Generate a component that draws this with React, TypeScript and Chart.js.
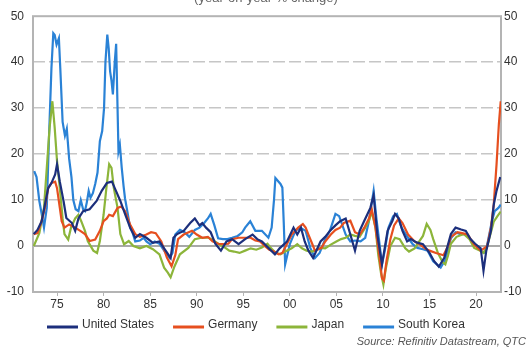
import React, { useEffect, useRef } from "react";
import { Chart, registerables } from "chart.js";

Chart.register(...registerables);

const titleText = "(year-on-year % change)";
const sourceText = "Source: Refinitiv Datastream, QTC";
const seriesNames = ["United States", "Germany", "Japan", "South Korea"];
const seriesColors = ["#1c2f7c", "#e64f1f", "#8cb53a", "#2a82d6"];
const xTickYears = [1975, 1980, 1985, 1990, 1995, 2000, 2005, 2010, 2015, 2020];
const yTickValues = [-10, 0, 10, 20, 30, 40, 50];

const usYears = [1972.5, 1972.9, 1973.35, 1973.7, 1974.05, 1974.4, 1974.8, 1975.0, 1975.3, 1975.7, 1976.0, 1976.6, 1976.95, 1977.3, 1977.8, 1978.5, 1979.25, 1979.8, 1980.35, 1980.9, 1981.2, 1981.8, 1982.3, 1982.85, 1983.4, 1983.9, 1984.6, 1985.3, 1986.0, 1986.5, 1987.2, 1987.5, 1987.9, 1988.6, 1989.3, 1989.8, 1990.3, 1990.6, 1991.0, 1991.5, 1992.0, 1992.6, 1993.2, 1993.8, 1994.5, 1995.2, 1996.0, 1996.5, 1997.0, 1997.7, 1998.4, 1998.9, 1999.7, 2000.4, 2000.8, 2001.2, 2001.6, 2002.0, 2002.5, 2003.3, 2003.8, 2004.3, 2004.9, 2005.4, 2006.0, 2006.5, 2007.0, 2007.5, 2008.0, 2008.65, 2009.0, 2009.4, 2009.9, 2010.5, 2011.0, 2011.3, 2011.7, 2012.1, 2012.6, 2013.0, 2013.6, 2014.3, 2015.0, 2015.5, 2016.0, 2016.6, 2017.3, 2017.8, 2018.4, 2018.9, 2019.4, 2019.9, 2020.5, 2020.8, 2021.1, 2021.6, 2021.9, 2022.2, 2022.6];
const usValues = [2.6, 3.5, 5.4, 9, 12.6, 13.7, 15.6, 17.8, 14, 9.8, 6.1, 5, 3.3, 6, 7.6, 8, 9.8, 12, 13.7, 14, 12.6, 9.8, 7, 4, 1.8, 2.6, 1.8, 0.7, 1, -0.5, -2.6, 1.8, 2.6, 3.3, 5, 6, 4.5, 5, 4, 3, 0.5, -1, 1, 1.5, 0.4, 1.5, 2.5, 1.5, 1, -0.4, -1.8, -0.5, 1, 4, 2.5, 4, 1, -1, -2.6, 1, 2, 3.3, 4.5, 5.4, 6, 2.5, -1, 3.3, 5.5, 8.3, 11, 2.5, -4, 3.3, 5.4, 7, 6, 3.3, 1, 1.5, 0.8, 0.4, -1.5, -3.3, -4.5, -2.5, 2.6, 4, 3.6, 3.3, 1.5, 0.5, -0.5, -5.4, -1, 3.3, 9, 12, 15];

const germanyYears = [1972.5, 1972.9, 1973.35, 1973.7, 1974.05, 1974.4, 1974.8, 1975.0, 1975.3, 1975.5, 1975.8, 1976.3, 1976.95, 1977.5, 1978.0, 1978.5, 1979.1, 1979.6, 1980.0, 1980.35, 1980.6, 1981.0, 1981.5, 1981.9, 1982.3, 1982.85, 1983.4, 1983.9, 1984.6, 1985.1, 1985.6, 1986.2, 1986.8, 1987.3, 1987.7, 1988.0, 1988.6, 1989.5, 1990.0, 1990.6, 1991.2, 1991.7, 1992.3, 1992.8, 1993.4, 1993.8, 1994.5, 1995.2, 1995.8, 1996.3, 1996.8, 1997.3, 1997.8, 1998.3, 1998.8, 1999.2, 1999.7, 2000.2, 2000.9, 2001.4, 2001.7, 2002.0, 2002.4, 2002.7, 2003.4, 2003.8, 2004.4, 2004.9, 2005.4, 2005.8, 2006.5, 2007.0, 2007.5, 2008.0, 2008.5, 2008.8, 2009.2, 2009.6, 2009.9, 2010.1, 2010.4, 2010.8, 2011.2, 2011.7, 2012.1, 2012.7, 2013.4, 2014.0, 2014.5, 2015.0, 2015.7, 2016.5, 2017.0, 2017.3, 2018.0, 2018.5, 2019.1, 2019.8, 2020.5, 2021.2, 2021.6, 2021.9, 2022.2, 2022.45, 2022.65];
const germanyValues = [2.6, 2.8, 5.4, 8.3, 12.6, 13.7, 14, 12.6, 8.3, 5.4, 4, 4.7, 4, 3.3, 2.6, 1.1, 1.4, 3.3, 5.4, 6, 6.8, 6.5, 8.3, 8.6, 7.6, 4.7, 2.6, 2, 2.5, 3, 2.8, 1, -2.5, -4.4, -2, 1.5, 2.5, 3.3, 2.5, 1.8, 2, 1, 0.5, 0.4, 0.5, 1.5, 1.8, 1.8, 1.8, 1.2, 1, 0, -0.8, -1.2, -1.8, -1.5, 0.5, 2.5, 4, 4.8, 4, 2.5, 0.5, -1, -0.4, 1, 2.5, 3.5, 4, 5, 5.5, 3, 2.5, 4, 6, 8, 4, -2, -7, -7.5, -3, 1.5, 4.5, 6, 5, 2.5, 1, 0.3, -0.5, -1, -1.5, -2, 0, 2, 3, 2.8, 2.5, 0.3, -1, 0, 4, 9, 17.7, 26.5, 31.5];

const japanYears = [1972.5, 1973.1, 1973.6, 1973.9, 1974.2, 1974.5, 1974.75, 1975.0, 1975.3, 1975.6, 1975.8, 1976.2, 1976.5, 1976.95, 1977.3, 1977.6, 1978.0, 1978.3, 1978.9, 1979.3, 1979.6, 1980.0, 1980.3, 1980.6, 1980.85, 1981.1, 1981.5, 1981.8, 1982.2, 1982.7, 1983.2, 1983.9, 1984.6, 1985.3, 1986.0, 1986.5, 1986.9, 1987.2, 1987.6, 1988.2, 1989.1, 1989.8, 1990.5, 1991.3, 1991.8, 1992.4, 1993.0, 1993.5, 1994.0, 1994.6, 1995.2, 1995.8, 1996.4, 1997.0, 1997.6, 1998.0, 1998.5, 1999.0, 1999.5, 2000.2, 2000.8, 2001.3, 2001.8, 2002.4, 2002.9, 2003.4, 2003.8, 2004.4, 2005.0, 2005.5, 2006.0, 2006.5, 2007.0, 2007.5, 2008.1, 2008.5, 2008.8, 2009.2, 2009.5, 2009.8, 2010.05, 2010.3, 2010.8, 2011.3, 2011.8, 2012.4, 2012.8, 2013.4, 2013.9, 2014.3, 2014.7, 2015.1, 2015.4, 2015.9, 2016.4, 2016.7, 2017.0, 2017.3, 2017.9, 2018.7, 2019.3, 2019.8, 2020.4, 2020.8, 2021.2, 2021.6, 2021.9, 2022.3, 2022.65];
const japanValues = [0, 2.8, 8.3, 17, 25.7, 31.5, 25.7, 18.5, 12.6, 6, 2.6, 1.4, 4, 6, 6.8, 5.4, 3.3, 1.1, -1, -1.5, 1.1, 6.8, 12.6, 17.8, 17, 12.6, 8.3, 2.6, 0.4, 1.1, 0, -0.5, 0, -0.7, -1.8, -4.7, -5.8, -6.8, -4.5, -1.8, -0.4, 1.5, 1.8, 1.8, 1.2, 0.4, -0.3, -1, -1.2, -1.5, -1, -0.5, -0.8, -0.3, 0.5, -0.5, -1.5, -1.8, -1.2, -0.5, 0.4, -0.5, -1, -1.2, -0.8, -0.4, -0.5, 0.3, 1, 1.5, 1.8, 2.5, 2.2, 2, 4, 5.5, 7.5, 4, -2, -6, -8.4, -5, 0, 1.8, 1.5, -0.5, -1.2, -0.5, 1, 2.2, 4.8, 3.5, 1.5, -1.5, -3.5, -4, -2, 0.5, 2, 2.6, 1.5, -0.4, -1, -1.5, 0, 3, 5.3, 6.5, 7.5];

const koreaYears = [1972.55, 1972.8, 1973.1, 1973.35, 1973.6, 1973.9, 1974.15, 1974.4, 1974.6, 1974.75, 1974.95, 1975.2, 1975.35, 1975.6, 1975.85, 1976.05, 1976.3, 1976.55, 1976.75, 1977.0, 1977.3, 1977.55, 1977.8, 1978.0, 1978.2, 1978.4, 1978.6, 1978.85, 1979.1, 1979.35, 1979.6, 1979.85, 1980.05, 1980.2, 1980.4, 1980.55, 1980.7, 1980.85, 1981.0, 1981.2, 1981.35, 1981.5, 1981.6, 1981.75, 1981.95, 1982.15, 1982.3, 1982.6, 1982.85, 1983.1, 1983.4, 1983.9, 1984.3, 1984.6, 1985.0, 1985.5, 1986.0, 1986.5, 1987.1, 1987.4, 1987.7, 1988.2, 1988.7, 1989.2, 1989.8, 1990.3, 1990.8, 1991.2, 1991.5, 1991.9, 1992.3, 1992.8, 1993.3, 1993.8, 1994.4, 1994.9, 1995.2, 1995.75, 1996.3, 1997.0, 1997.7, 1998.05, 1998.3, 1998.45, 1999.0, 1999.2, 1999.35, 1999.5, 2000.0, 2000.6, 2001.1, 2001.7, 2002.2, 2002.7, 2003.2, 2003.8, 2004.3, 2004.9, 2005.3, 2006.0, 2006.5, 2007.0, 2007.6, 2008.1, 2008.5, 2009.0, 2009.3, 2009.9, 2010.2, 2010.6, 2011.1, 2011.5, 2012.0, 2012.7, 2013.2, 2013.7, 2014.3, 2014.8, 2015.4, 2016.2, 2016.7, 2017.3, 2017.8, 2018.3, 2018.9, 2019.4, 2019.9, 2020.5, 2021.0, 2021.3, 2021.7, 2022.0, 2022.4, 2022.65];
const koreaValues = [16.3, 15, 9.8, 7, 4, 8.3, 24.3, 38.7, 46.3, 45.9, 43.8, 45.2, 38.7, 27, 24, 25.5, 19, 15, 10, 8, 7.6, 10, 8, 7.6, 9.5, 12, 10.5, 11.5, 13.5, 16, 22.8, 25, 30, 40, 46, 43, 38, 36, 33, 40, 44, 30, 20.6, 22, 17, 13, 10.4, 7, 4, 3, 1, 1.2, 1.8, 1, 0.4, 1, 0.5, -1, -2.6, -1.5, 2.5, 3.5, 3, 2, 3.5, 4, 5, 6, 7, 4.5, 1.7, 1.5, 1.5, 1.8, 2.2, 3, 4, 5.4, 3.3, 3.3, 1.8, 4, 10, 14.8, 13.5, 12.7, 5, -4, 0.4, 3.3, 4, 3.3, -0.4, -2.6, -1.5, 1.5, 3.3, 7, 6.5, 2.5, 1, 1.2, 1, 1.8, 5.5, 12, 6, -4, -1, 4, 6.5, 7, 4, 1.8, 0.4, -0.4, -0.7, -1, -3.3, -4.7, -3, 1.7, 3, 2.6, 2.6, 1.5, 0.3, -1, -1.5, 1.3, 5.4, 7.6, 8.3, 9];

const seriesYears = [usYears, germanyYears, japanYears, koreaYears];
const seriesValues = [usValues, germanyValues, japanValues, koreaValues];

const FONT = "'Liberation Sans', Arial, sans-serif";
const TEXT = "#333333";

const decorPlugin = {
  id: "decor",
  beforeDatasetsDraw(chart: any) {
    const { ctx, chartArea } = chart;
    ctx.save();
    ctx.strokeStyle = "#b4b4b4";
    ctx.lineWidth = 2;
    ctx.strokeRect(chartArea.left, chartArea.top, chartArea.right - chartArea.left, chartArea.bottom - chartArea.top);
    ctx.restore();
  },
  afterDraw(chart: any) {
    const { ctx } = chart;
    ctx.save();
    // title (cut by the top edge)
    ctx.font = `13px ${FONT}`;
    ctx.fillStyle = "#666";
    ctx.textAlign = "center";
    ctx.textBaseline = "alphabetic";
    ctx.fillText(titleText, 266, 1.5);
    // legend
    ctx.font = `12px ${FONT}`;
    ctx.textAlign = "left";
    ctx.textBaseline = "middle";
    let x = 47;
    const y = 325;
    seriesNames.forEach((name, i) => {
      ctx.strokeStyle = seriesColors[i];
      ctx.lineWidth = 3;
      ctx.beginPath();
      ctx.moveTo(x, y + 2);
      ctx.lineTo(x + 31, y + 2);
      ctx.stroke();
      ctx.fillStyle = TEXT;
      ctx.fillText(name, x + 35, y);
      x += 35 + ctx.measureText(name).width + 19;
    });
    // source
    ctx.font = `italic 11px ${FONT}`;
    ctx.textAlign = "right";
    ctx.textBaseline = "middle";
    ctx.fillStyle = "#555";
    ctx.fillText(sourceText, 526, 342);
    ctx.restore();
  },
};

export default function App() {
  const ref = useRef<HTMLCanvasElement | null>(null);
  useEffect(() => {
    if (!ref.current) return;
    const datasets = seriesNames.map((name, i) => ({
      label: name,
      data: seriesYears[i].map((yr, j) => ({ x: yr, y: seriesValues[i][j] })),
      borderColor: seriesColors[i],
      backgroundColor: seriesColors[i],
      borderWidth: 2.2,
      pointRadius: 0,
      tension: 0,
      fill: false,
    }));
    const tickFont = { family: FONT, size: 12 };
    const chart = new Chart(ref.current, {
      type: "line",
      data: { datasets },
      plugins: [decorPlugin],
      options: {
        animation: false,
        responsive: false,
        maintainAspectRatio: false,
        layout: { padding: { top: 15, left: 0, right: 0, bottom: 0 } },
        plugins: { legend: { display: false }, tooltip: { enabled: false }, title: { display: false } },
        scales: {
          x: {
            type: "linear",
            min: 1972.42,
            max: 2022.68,
            afterBuildTicks: (s: any) => {
              s.ticks = xTickYears.map((v) => ({ value: v }));
            },
            afterFit: (s: any) => {
              s.height = 59;
            },
            ticks: {
              callback: (v: any) => String(v).slice(2),
              font: tickFont,
              color: TEXT,
              padding: 1,
              maxRotation: 0,
              autoSkip: false,
            },
            grid: { drawOnChartArea: false, drawTicks: true, tickLength: 4, color: "#b4b4b4" },
            border: { display: false },
          },
          y: {
            position: "left",
            min: -10,
            max: 50,
            afterBuildTicks: (s: any) => {
              s.ticks = yTickValues.map((v) => ({ value: v }));
            },
            afterFit: (s: any) => {
              s.width = 33;
            },
            ticks: { font: tickFont, color: TEXT, padding: 9 },
            grid: {
              drawTicks: false,
              color: (c: any) => {
                const v = c.tick ? c.tick.value : null;
                if (v === 0) return "#a8a8a8";
                if (v === -10 || v === 50) return "rgba(0,0,0,0)";
                return "#c6c6c6";
              },
              lineWidth: (c: any) => (c.tick && c.tick.value === 0 ? 2 : 1.5),
            },
            border: {
              display: false,
              dash: (c: any) => (c.tick && c.tick.value === 0 ? [] : [12, 4]),
            },
          },
          y2: {
            position: "right",
            min: -10,
            max: 50,
            afterBuildTicks: (s: any) => {
              s.ticks = yTickValues.map((v) => ({ value: v }));
            },
            afterFit: (s: any) => {
              s.width = 31;
            },
            ticks: { font: tickFont, color: TEXT, padding: 3 },
            grid: { drawOnChartArea: false, drawTicks: false },
            border: { display: false },
          },
        },
      } as any,
    });
    return () => chart.destroy();
  }, []);
  return (
    <div style={{ position: "absolute", left: 0, top: 0, width: 532, height: 351, background: "#fff" }}>
      <canvas ref={ref} width={532} height={351} style={{ display: "block" }} />
    </div>
  );
}
